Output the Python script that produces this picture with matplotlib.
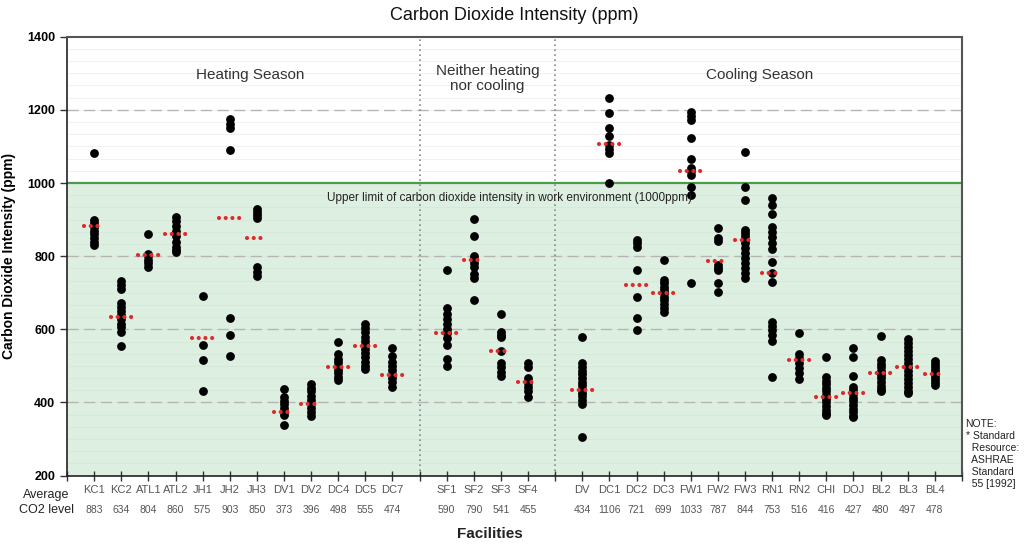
import matplotlib
matplotlib.use("Agg")
import matplotlib.pyplot as plt
import matplotlib.transforms as mtransforms
import numpy as np

plt.rcParams['font.family'] = ['Liberation Sans', 'DejaVu Sans']

# ---- data ----
facilities = ["KC1", "KC2", "ATL1", "ATL2", "JH1", "JH2", "JH3", "DV1", "DV2", "DC4", "DC5", "DC7",
              "SF1", "SF2", "SF3", "SF4",
              "DV", "DC1", "DC2", "DC3", "FW1", "FW2", "FW3", "RN1", "RN2", "CHI", "DOJ", "BL2", "BL3", "BL4"]
slots = [1, 2, 3, 4, 5, 6, 7, 8, 9, 10, 11, 12,
         14, 15, 16, 17,
         19, 20, 21, 22, 23, 24, 25, 26, 27, 28, 29, 30, 31, 32]
averages = [883, 634, 804, 860, 575, 903, 850, 373, 396, 498, 555, 474,
            590, 790, 541, 455,
            434, 1106, 721, 699, 1033, 787, 844, 753, 516, 416, 427, 480, 497, 478]

readings = {
    "KC1": [1083, 900, 890, 880, 870, 860, 850, 840, 830],
    "KC2": [733, 722, 710, 672, 662, 650, 640, 628, 615, 605, 593, 555],
    "ATL1": [860, 806, 800, 790, 780, 770],
    "ATL2": [908, 895, 882, 868, 855, 840, 826, 818, 812],
    "JH1": [691, 556, 516, 430],
    "JH2": [1174, 1162, 1150, 1090, 632, 584, 528],
    "JH3": [928, 920, 912, 905, 770, 758, 747],
    "DV1": [437, 415, 405, 395, 385, 375, 365, 338],
    "DV2": [451, 440, 430, 419, 407, 396, 384, 373, 362],
    "DC4": [565, 532, 520, 510, 500, 490, 480, 470, 462],
    "DC5": [615, 603, 592, 580, 569, 557, 545, 534, 523, 512, 501, 491],
    "DC7": [548, 526, 512, 500, 489, 478, 466, 455, 443],
    "SF1": [762, 657, 642, 627, 615, 601, 589, 575, 557, 518, 500],
    "SF2": [901, 856, 800, 791, 780, 770, 752, 740, 680],
    "SF3": [642, 594, 585, 578, 540, 507, 496, 484, 472],
    "SF4": [507, 498, 466, 454, 443, 430, 416],
    "DV": [578, 507, 497, 487, 477, 467, 457, 447, 437, 427, 417, 407, 397, 305],
    "DC1": [1233, 1192, 1151, 1128, 1104, 1092, 1081, 999],
    "DC2": [844, 835, 825, 762, 688, 630, 598],
    "DC3": [789, 735, 726, 717, 708, 699, 689, 680, 669, 657, 648],
    "FW1": [1195, 1184, 1172, 1124, 1066, 1041, 1032, 1023, 990, 966, 727],
    "FW2": [878, 851, 841, 776, 768, 762, 727, 702],
    "FW3": [1086, 988, 953, 872, 863, 854, 845, 836, 822, 808, 794, 780, 767, 753, 739],
    "RN1": [958, 940, 915, 879, 867, 853, 837, 819, 785, 753, 730, 621, 609, 598, 584, 569, 470],
    "RN2": [589, 533, 521, 507, 493, 480, 463],
    "CHI": [525, 470, 460, 450, 440, 430, 420, 410, 400, 390, 380, 370, 366],
    "DOJ": [548, 523, 473, 443, 433, 423, 413, 403, 393, 383, 373, 363, 359],
    "BL2": [582, 516, 506, 496, 486, 476, 466, 456, 446, 436, 430],
    "BL3": [573, 562, 551, 540, 529, 518, 507, 496, 485, 474, 463, 452, 441, 430, 425],
    "BL4": [513, 505, 497, 489, 481, 473, 465, 457, 449],
}
limit = 1000
y_ticks = [200, 400, 600, 800, 1000, 1200, 1400]
season_dividers = [13, 18]

# ---- figure ----
fig = plt.figure(figsize=(10.25, 5.44), dpi=100)
ax = fig.add_axes([0.0654, 0.1257, 0.8731, 0.8068])
ax.set_xlim(0, 33)
ax.set_ylim(200, 1400)

# shaded region below limit
ax.axhspan(200, limit, color="#ddefe1", zorder=0, lw=0)
# faint minor lines
for yy in np.arange(200, 1400, 200 / 6):
    ax.axhline(yy, color="#ececec" if yy > limit else "#d3e6d7", lw=0.5, zorder=0.5)
# major dashed grid
for yy in [400, 600, 800, 1200]:
    ax.axhline(yy, color="#b5b5b5", lw=1.0, ls=(0, (8, 4)), zorder=0.6)
ax.axhline(limit, color="#4c9a4c", lw=1.6, zorder=1)

for xd in season_dividers:
    ax.axvline(xd, color="#888888", lw=1.2, ls=(0, (1, 2)), zorder=1)

# points
for name, s in zip(facilities, slots):
    vals = readings[name]
    ax.scatter([s] * len(vals), vals, s=40, color="black", zorder=3, linewidths=0)

# mean markers (dotted red, four dots)
for s, a in zip(slots, averages):
    ax.plot([s - 0.38, s + 0.38], [a, a], color="#e02a2a", lw=3.0,
            ls=(0, (0.01, 1.6)), zorder=4, dash_capstyle="round")

# ticks
ax.set_xticks(np.arange(0, 34))
ax.set_xticklabels([])
ax.set_yticks(y_ticks)
ax.set_yticklabels([str(v) for v in y_ticks], fontsize=9, fontweight="bold")
ax.tick_params(axis="x", direction="inout", length=7, width=1, color="#333333")
ax.tick_params(axis="y", direction="out", length=5, width=1, color="#333333")
for side in ["left", "bottom"]:
    ax.spines[side].set_color("#222222")
    ax.spines[side].set_linewidth(1.2)
for side in ["top", "right"]:
    ax.spines[side].set_color("#555555")
    ax.spines[side].set_linewidth(1.5)

# labels below axis
trans = mtransforms.blended_transform_factory(ax.transData, ax.transAxes)
for name, s, a in zip(facilities, slots, averages):
    ax.text(s, -0.033, name, transform=trans, ha="center", va="center",
            fontsize=8, color="#555555")
    ax.text(s, -0.079, str(a), transform=trans, ha="center", va="center",
            fontsize=7.5, color="#555555")
fig.text(0.045, 0.076, "Average\nCO2 level", ha="center", va="center", fontsize=9,
         color="#222222", linespacing=1.3)

ax.set_ylabel("Carbon Dioxide Intensity (ppm)", fontsize=10, fontweight="bold", labelpad=8)
fig.text(0.478, 0.018, "Facilities", ha="center", va="center", fontsize=11, fontweight="bold",
         color="#222222")
fig.text(0.502, 0.972, "Carbon Dioxide Intensity (ppm)", ha="center", va="center",
         fontsize=13, color="#111111")

# annotations
ax.text(6.75, 1295, "Heating Season", ha="center", va="center", fontsize=11, color="#333333")
ax.text(15.5, 1286, "Neither heating\nnor cooling", ha="center", va="center", fontsize=11,
        color="#333333", linespacing=1.15)
ax.text(25.55, 1295, "Cooling Season", ha="center", va="center", fontsize=11, color="#333333")
ax.text(16.3, 959, "Upper limit of carbon dioxide intensity in work environment (1000ppm)",
        ha="center", va="center", fontsize=8.5, color="#222222")

fig.text(0.942, 0.165, "NOTE:\n* Standard\n  Resource:\n  ASHRAE\n  Standard\n  55 [1992]",
         ha="left", va="center", fontsize=7.5, color="#222222", linespacing=1.25)

fig.savefig("out.png", dpi=100)
